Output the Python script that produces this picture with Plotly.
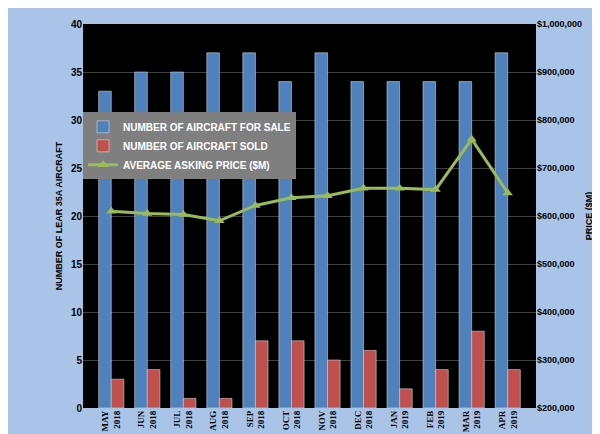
import plotly.graph_objects as go

months = ["MAY<br>2018", "JUN<br>2018", "JUL<br>2018", "AUG<br>2018", "SEP<br>2018", "OCT<br>2018",
          "NOV<br>2018", "DEC<br>2018", "JAN<br>2019", "FEB<br>2019", "MAR<br>2019", "APR<br>2019"]
for_sale = [33, 35, 35, 37, 37, 34, 37, 34, 34, 34, 34, 37]
sold = [3, 4, 1, 1, 7, 7, 5, 6, 2, 4, 8, 4]
price = [610000, 605000, 603000, 590000, 622000, 638000, 642000, 658000, 658000, 655000, 760000, 648000]

fig = go.Figure()
fig.add_trace(go.Bar(x=months, y=for_sale, name="<b>NUMBER OF AIRCRAFT FOR SALE</b>", marker_color="#4F81BD"))
fig.add_trace(go.Bar(x=months, y=sold, name="<b>NUMBER OF AIRCRAFT SOLD</b>", marker_color="#C0504D"))
fig.add_trace(go.Scatter(x=months, y=price, name="<b>AVERAGE ASKING PRICE ($M)</b>", yaxis="y2",
                         mode="lines+markers", line=dict(color="#9BBB59", width=3),
                         marker=dict(symbol="triangle-up", size=9, color="#9BBB59")))

fig.update_layout(
    width=600, height=434,
    margin=dict(l=75, r=72, t=10, b=32),
    paper_bgcolor="#A9C4E6", plot_bgcolor="#000000",
    font=dict(family="Liberation Sans", size=9, color="#000000"),
    barmode="group", bargap=0.3, bargroupgap=0,
    legend=dict(x=0.0, y=0.77, xanchor="left", yanchor="top", bgcolor="#7F7F7F",
                font=dict(color="white", size=10, family="Liberation Sans"),
                tracegroupgap=0, itemwidth=30),
    xaxis=dict(tickangle=-90, tickfont=dict(size=9, family="Liberation Sans Narrow"),
               showline=False, tickprefix="<b>", ticksuffix="</b>"),
    yaxis=dict(range=[0, 40], dtick=5, title=dict(text="<b>NUMBER OF LEAR 35A AIRCRAFT</b>", font=dict(size=9), standoff=6),
               gridcolor="#404040", zeroline=False, tickfont=dict(size=10), tickprefix="<b>", ticksuffix="</b>"),
    yaxis2=dict(range=[200000, 1000000], dtick=100000, overlaying="y", side="right",
                tickformat="$,.0f", showgrid=False, tickfont=dict(size=9),
                tickprefix="<b>", ticksuffix="</b>",
                title=dict(text="<b>PRICE ($M)</b>", font=dict(size=9), standoff=4)),
)
fig.write_html("out.html")
